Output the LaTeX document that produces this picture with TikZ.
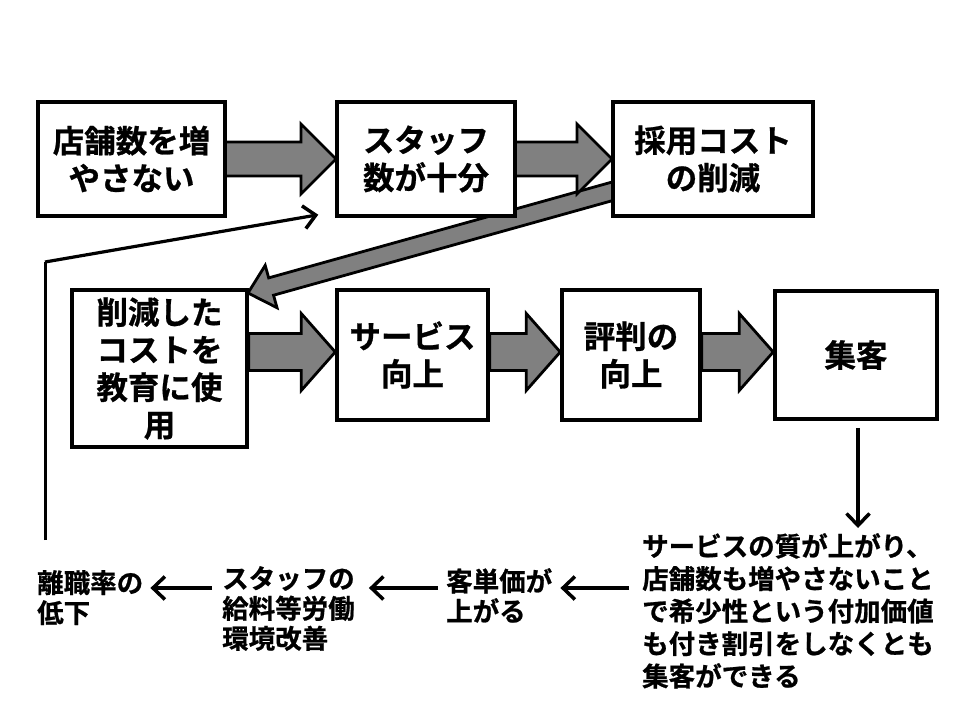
\documentclass[tikz,border=0pt]{standalone}
\usepackage{fontspec}
\setmainfont{Noto Sans CJK JP}[BoldFont={* Bold},BoldFeatures={FakeBold=0.8}]
\usetikzlibrary{calc,arrows.meta}
\definecolor{arrgray}{RGB}{128,128,128}
\newcommand{\hblk}[5]{% from, to, shaft half, head half, head length
  \draw[blk] let \p1=(#1), \p2=(#2) in
    (\x1,\y1+#3) -- (\x2-#5,\y1+#3) -- (\x2-#5,\y1+#4) -- (\x2,\y1)
    -- (\x2-#5,\y1-#4) -- (\x2-#5,\y1-#3) -- (\x1,\y1-#3) -- cycle;}
\begin{document}
\begin{tikzpicture}[x=1pt,y=-1pt,
  box/.style={draw,line width=3.5pt,fill=white,align=center,inner sep=0pt,
    font=\fontsize{31.5}{37.5}\selectfont\bfseries},
  blk/.style={draw,line width=2.8pt,fill=arrgray,line join=miter},
  lbl/.style={align=left,inner sep=0pt,anchor=north west,
    font=\fontsize{26.5}{30}\selectfont\bfseries},
  fline/.style={line width=3.2pt,-{Straight Barb[length=12pt,width=23pt,line width=3.5pt]}}]
\useasboundingbox[fill=white] (0,0) rectangle (960,720);

\coordinate (r2) at (0,352);
\coordinate (ya) at (0,588);

\path
  (131.5,159) coordinate (p1)
  (426,159)   coordinate (p2)
  (713,159)   coordinate (p3)
  (159.5,368.5) coordinate (p4)
  (412.5,355) coordinate (p5)
  (631,355)   coordinate (p6)
  (856,355)   coordinate (p7);

% diagonal block arrow (behind everything)
\coordinate (dS) at (660,178);
\coordinate (dT) at (248,293);
\coordinate (dH) at ($(dT)!24pt!(dS)$);
\draw[blk]
  ($(dS)!9pt!90:(dT)$) -- ($(dH)!9pt!-90:(dS)$) -- ($(dH)!22pt!-90:(dS)$)
  -- (dT) -- ($(dH)!22pt!90:(dS)$) -- ($(dH)!9pt!90:(dS)$)
  -- ($(dS)!9pt!-90:(dT)$) -- cycle;

% horizontal block arrows, row 1
\coordinate (a1s) at (224,159);
\coordinate (a1e) at (336,159);
\coordinate (a2s) at (514,159);
\coordinate (a2e) at (612,159);
\hblk{a1s}{a1e}{17pt}{35pt}{35pt}
\hblk{a2s}{a2e}{17pt}{35pt}{35pt}

% boxes
\node[box,minimum width=187pt,minimum height=114pt] (b1) at (p1) {店舗数を増\\やさない};
\node[box,minimum width=178pt,minimum height=114pt] (b2) at (p2) {スタッフ\\数が十分};
\node[box,minimum width=200pt,minimum height=114pt] (b3) at (p3) {採用コスト\\の削減};
\node[box,minimum width=175pt,minimum height=157pt] (b4) at (p4) {削減した\\コストを\\教育に使\\用};
\node[box,minimum width=151pt,minimum height=130pt] (b5) at (p5) {サービス\\向上};
\node[box,minimum width=138pt,minimum height=130pt] (b6) at (p6) {評判の\\向上};
\node[box,minimum width=162pt,minimum height=128pt] (b7) at (p7) {集客};

% row 2 block arrows
\hblk{b4.east |- r2}{b5.west |- r2}{18.5pt}{38.5pt}{34pt}
\hblk{b5.east |- r2}{b6.west |- r2}{18.5pt}{38.5pt}{34pt}
\hblk{b6.east |- r2}{b7.west |- r2}{18.5pt}{38.5pt}{34pt}

% bottom texts
\node[lbl] (t1) at (37,570) {離職率の\\低下};
\node[lbl] (t2) at (222,566) {スタッフの\\給料等労働\\環境改善};
\node[lbl] (t3) at (446,568) {客単価が\\上がる};
\node[lbl,font=\fontsize{26.5}{32.5}\selectfont\bfseries] (r1) at (642,533)
  {サービスの質が上がり、\\店舗数も増やさないこと\\で希少性という付加価値\\も付き割引をしなくとも\\集客ができる};

% thin connectors
\draw[fline] ([shift={(2,7)}]b7.south) -- ([shift={(2,-5)}]b7.south |- r1.north);
\draw[fline,shorten <=13pt,shorten >=8pt] (r1.west |- ya) -- (t3.east |- ya);
\draw[fline,shorten <=8pt,shorten >=14pt] (t3.west |- ya) -- (t2.east |- ya);
\draw[fline,shorten <=10pt,shorten >=7pt] (t2.west |- ya) -- (t1.east |- ya);

\coordinate (f1) at ($(t1.north west)+(8,-30)$);
\coordinate (f2) at (f1 |- 0,262);
\coordinate (f3) at ($(b2.south west)+(-17,-3)$);
\draw[line width=3pt,line join=miter] (f1) -- (f2);
\draw[fline] (f2) -- (f3);
\end{tikzpicture}
\end{document}
